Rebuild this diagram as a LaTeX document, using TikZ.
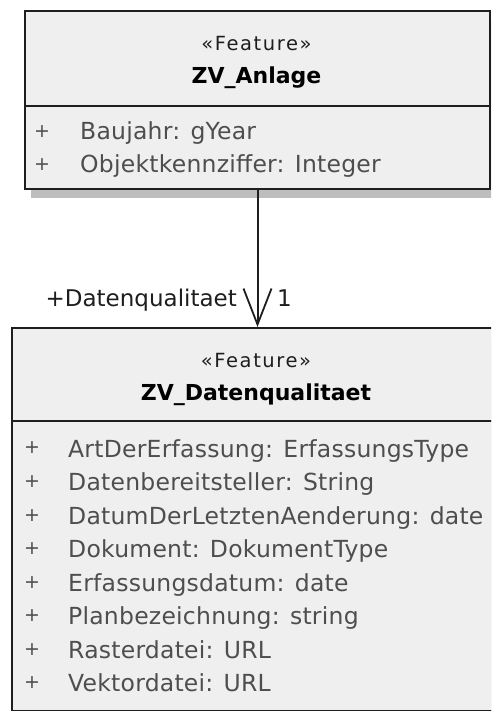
\documentclass[tikz,border=0pt]{standalone}
\usepackage{fontspec}
\setmainfont{DejaVu Sans}
\newfontfamily\stereofont[LetterSpace=8]{DejaVu Sans}
\newfontfamily\attrfont[LetterSpace=1]{DejaVu Sans}
\usetikzlibrary{arrows.meta,shadows}

\definecolor{boxfill}{HTML}{EFEFEF}
\definecolor{boxline}{HTML}{1E1E1E}
\definecolor{shadowgray}{HTML}{BDBDBD}
\definecolor{attrgray}{HTML}{4E4E4E}

\tikzset{
  classbox/.style={draw=boxline, line width=2pt, fill=boxfill, inner sep=0pt,
    anchor=north west,
    general shadow={fill=shadowgray, shadow xshift=6pt, shadow yshift=-9pt}},
  sepline/.style={draw=boxline, line width=2pt},
  stereo/.style={font=\stereofont\fontsize{19.5}{19.5}\selectfont, text=boxline,
    inner sep=0pt, anchor=base},
  classname/.style={font=\bfseries\fontsize{22}{22}\selectfont, text=black,
    inner sep=0pt, anchor=base},
  attr/.style={font=\attrfont\fontsize{23.5}{23.5}\selectfont, text=attrgray,
    inner sep=0pt, anchor=base west},
  vis/.style={font=\fontsize{19}{19}\selectfont, text=attrgray,
    inner sep=0pt, anchor=center},
  rolelabel/.style={font=\fontsize{23}{23}\selectfont, text=boxline,
    inner sep=0pt},
  assoc/.style={draw=boxline, line width=2pt,
    -{Straight Barb[length=36pt,width=28pt,line width=1.8pt]}},
}

\begin{document}
\begin{tikzpicture}[x=1pt,y=-1pt]
  \clip (0,0) rectangle (491,711);
  \fill[white] (0,0) rectangle (491,711);

  % class ZV_Anlage
  \node[classbox, minimum width=465pt, minimum height=178pt] (anlage) at (24,10) {};
  \coordinate (anlageSep) at (0,106);
  \draw[sepline] (anlage.west |- anlageSep) -- (anlage.east |- anlageSep);
  \node[stereo] (anlageStereo) at (256.5,51) {«Feature»};
  \node[classname] (anlageName) at (256.5,84) {ZV\_Anlage};
  \node[vis] (anlageV1) at (42,132) {+};
  \node[attr] (anlageA1) at (80,140) {Baujahr: gYear};
  \node[vis] (anlageV2) at (42,165) {+};
  \node[attr] (anlageA2) at (80,173) {Objektkennziffer: Integer};

  % class ZV_Datenqualitaet
  \node[classbox, minimum width=490pt, minimum height=383pt] (dq) at (11,327) {};
  \coordinate (dqSep) at (0,420.5);
  \draw[sepline] (dq.west |- dqSep) -- (dq.east |- dqSep);
  \node[stereo] (dqStereo) at (256,367) {«Feature»};
  \node[classname] (dqName) at (256,400) {ZV\_Datenqualitaet};
  \foreach \txt [count=\i from 0] in {
      ArtDerErfassung: ErfassungsType,
      Datenbereitsteller: String,
      DatumDerLetztenAenderung: date,
      Dokument: DokumentType,
      Erfassungsdatum: date,
      Planbezeichnung: string,
      Rasterdatei: URL,
      Vektordatei: URL} {
    \node[vis] (dqV\i) at (32,448+33.57*\i) {+};
    \node[attr] (dqA\i) at (68,457+33.57*\i) {\txt};
  }

  % association
  \draw[assoc] (anlage.south) -- (anlage.south |- dq.north);
  \node[rolelabel, anchor=base east] (roleName) at (237,306) {+Datenqualitaet};
  \node[rolelabel, anchor=base west] (roleMult) at (277,306) {1};
\end{tikzpicture}
\end{document}
